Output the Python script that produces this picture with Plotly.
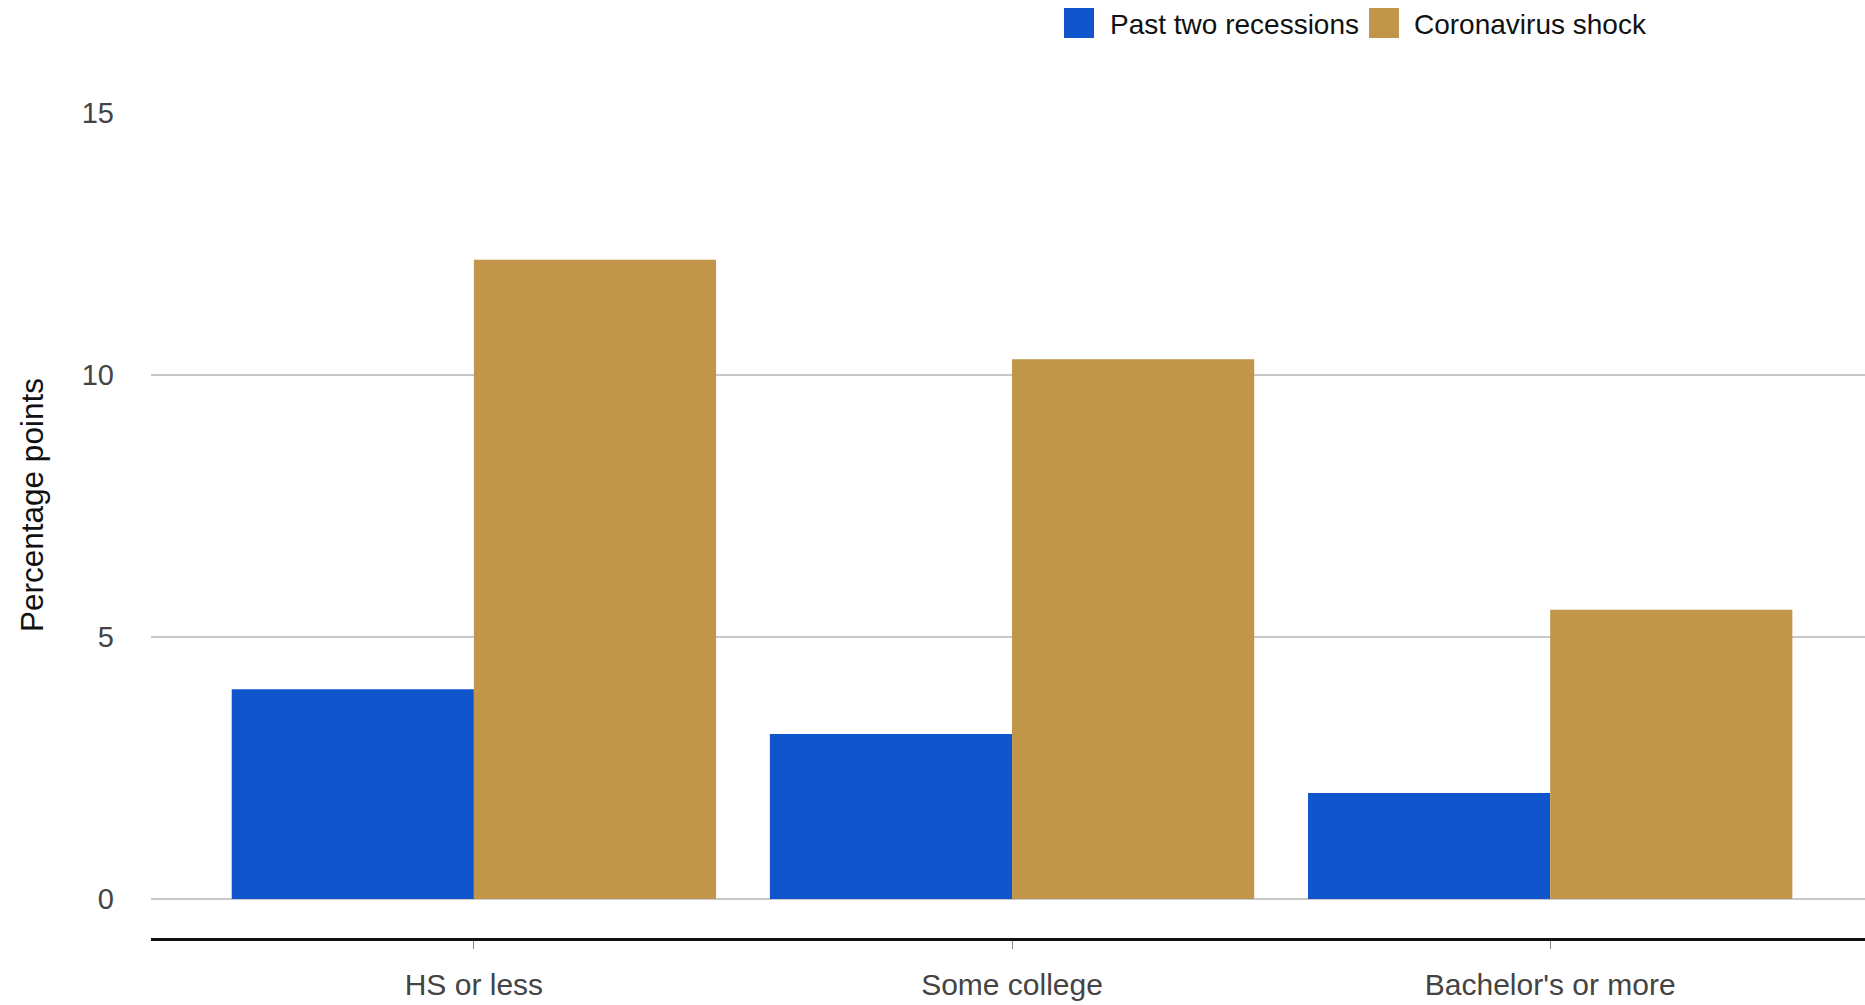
import plotly.graph_objects as go

# Increase in unemployment rate by education level, percentage points
categories = ["HS or less", "Some college", "Bachelor's or more"]
past_two_recessions = [4.0, 3.15, 2.02]
coronavirus_shock = [12.2, 10.3, 5.52]
series_names = ["Past two recessions", "Coronavirus shock"]
series_colors = ["#1155CC", "#C1954A"]
y_ticks = [0, 5, 10, 15]

W, H = 1865, 1005
L, R, T, B = 151, 0, 113, 67
PW, PH = W - L - R, H - T - B
FONT = "Liberation Sans, Arial, sans-serif"


def px_x(x):
    return (x - L) / PW


def px_y(y):
    return (H - B - y) / PH


fig = go.Figure()
for name, vals, col in zip(series_names, [past_two_recessions, coronavirus_shock], series_colors):
    fig.add_trace(go.Bar(
        x=categories, y=vals, name=name,
        marker=dict(color=col, line=dict(width=0)),
        showlegend=False,
    ))

# Legend drawn as swatches and labels above the plot
shapes = []
annotations = []
legend_items = [(1064, 1108), (1369, 1412)]
for (sx, tx), name, col in zip(legend_items, series_names, series_colors):
    shapes.append(dict(
        type="rect", xref="paper", yref="paper",
        x0=px_x(sx), x1=px_x(sx + 30), y0=px_y(38), y1=px_y(8),
        fillcolor=col, line=dict(width=0),
    ))
    annotations.append(dict(
        text=name, xref="paper", yref="paper",
        x=px_x(tx), y=px_y(25), xanchor="left", yanchor="middle",
        showarrow=False, font=dict(family=FONT, size=28, color="#111111"),
    ))

annotations.append(dict(
    text="Percentage points", xref="paper", yref="paper",
    x=px_x(32), y=px_y(505), xanchor="center", yanchor="middle",
    textangle=-90, showarrow=False,
    font=dict(family=FONT, size=31.5, color="#111111"),
))

fig.update_layout(
    width=W, height=H,
    margin=dict(l=L, r=R, t=T, b=B, pad=0, autoexpand=False),
    plot_bgcolor="white", paper_bgcolor="white",
    barmode="group", bargap=0.1, bargroupgap=0,
    font=dict(family=FONT, size=28, color="#444444"),
    shapes=shapes, annotations=annotations,
    showlegend=False,
)
fig.update_xaxes(
    type="category", range=[-0.6, 2.585], automargin=False,
    showline=True, linecolor="#111111", linewidth=2.5,
    ticks="outside", ticklen=8, tickwidth=1, tickcolor="#888888",
    tickfont=dict(family=FONT, size=30, color="#444444"),
    ticklabelstandoff=10,
    showgrid=False, zeroline=False,
)
fig.update_yaxes(
    range=[-0.745, 15], tickvals=y_ticks, automargin=False,
    showgrid=True, gridcolor="#C8C8C8", gridwidth=1.5,
    zeroline=False, showline=False,
    tickfont=dict(family=FONT, size=29, color="#444444"),
    ticklabelstandoff=36,
)

fig.write_html("out.html")
